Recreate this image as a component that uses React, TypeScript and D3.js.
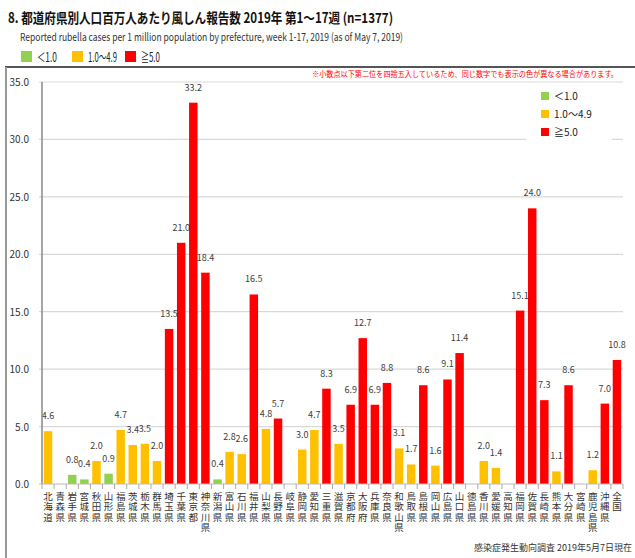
import * as d3 from "d3";

const categories = [
  "北海道", "青森県", "岩手県", "宮城県", "秋田県", "山形県", "福島県", "茨城県", "栃木県", "群馬県",
  "埼玉県", "千葉県", "東京都", "神奈川県", "新潟県", "富山県", "石川県", "福井県", "山梨県", "長野県",
  "岐阜県", "静岡県", "愛知県", "三重県", "滋賀県", "京都府", "大阪府", "兵庫県", "奈良県", "和歌山県",
  "鳥取県", "島根県", "岡山県", "広島県", "山口県", "徳島県", "香川県", "愛媛県", "高知県", "福岡県",
  "佐賀県", "長崎県", "熊本県", "大分県", "宮崎県", "鹿児島県", "沖縄県", "全国",
];

const values = [
  4.6, 0, 0.8, 0.4, 2.0, 0.9, 4.7, 3.4, 3.5, 2.0,
  13.5, 21.0, 33.2, 18.4, 0.4, 2.8, 2.6, 16.5, 4.8, 5.7,
  0, 3.0, 4.7, 8.3, 3.5, 6.9, 12.7, 6.9, 8.8, 3.1,
  1.7, 8.6, 1.6, 9.1, 11.4, 0, 2.0, 1.4, 0, 15.1,
  24.0, 7.3, 1.1, 8.6, 0, 1.2, 7.0, 10.8,
];

const yTicks = [0, 5, 10, 15, 20, 25, 30, 35];

const legendLabels = ["＜1.0", "1.0～4.9", "≧5.0"];
const legendColors = ["#92D050", "#FFC000", "#FF0000"];

const W = 635;
const H = 558;
const margin = {top: 82, right: 12, bottom: 74, left: 42};

const jp = "'Noto Sans CJK JP', 'Noto Sans', sans-serif";

const colorFor = (v: number) => (v < 1 ? legendColors[0] : v < 5 ? legendColors[1] : legendColors[2]);

const App = () => {
  const x = d3.scaleBand<string>()
    .domain(categories)
    .range([margin.left, 623])
    .paddingInner(0.3)
    .paddingOuter(0.15);

  const y = d3.scaleLinear().domain([0, 35]).range([H - margin.bottom, margin.top]);

  const bw = x.bandwidth();
  const gap = (x.step() - bw) / 2;
  const cx = (c: string) => (x(c) ?? 0) + bw / 2;

  return (
    <svg width={W} height={H} style={{position: "absolute", left: 0, top: 0, background: "#fff"}}
         fontFamily={jp}>
      {/* タイトル */}
      <text x={8} y={23} fontSize={14} fontWeight="bold" fill="#111" textLength={385}
            lengthAdjust="spacingAndGlyphs">
        8. 都道府県別人口百万人あたり風しん報告数  2019年 第1～17週 (n=1377)
      </text>
      <text x={20} y={41} fontSize={11} fill="#333" textLength={383} lengthAdjust="spacingAndGlyphs">
        Reported rubella cases per 1 million population by prefecture, week 1-17, 2019 (as of May 7, 2019)
      </text>
      {legendLabels.map((l, i) => {
        const lx = [21, 72, 125][i];
        const len = [20, 29, 19][i];
        return (
          <g key={l}>
            <rect x={lx} y={51} width={11} height={11} fill={legendColors[i]}/>
            <text x={lx + 16} y={62} fontSize={12.5} fill="#222" textLength={len}
                  lengthAdjust="spacingAndGlyphs">{l}</text>
          </g>
        );
      })}

      {/* 枠 */}
      <line x1={5} x2={W} y1={67} y2={67} stroke="#555" strokeWidth={2}/>
      <line x1={6} x2={6} y1={67} y2={H} stroke="#999" strokeWidth={2}/>

      <text x={618} y={77} fontSize={7.5} fill="#FF0000" textAnchor="end" textLength={306}
            lengthAdjust="spacingAndGlyphs">
        ※小数点以下第二位を四捨五入しているため、同じ数字でも表示の色が異なる場合があります。
      </text>

      {/* グリッド */}
      {yTicks.map(t => (
        <g key={t}>
          {t > 0 && <line x1={margin.left - 3} x2={623} y1={y(t)} y2={y(t)} stroke="#d9d9d9" strokeWidth={1.2}/>}
          <text x={29} y={y(t) + 4} fontSize={10} fill="#333" textAnchor="end">{t.toFixed(1)}</text>
        </g>
      ))}

      {/* 凡例 */}
      <rect x={526} y={84} width={86} height={60} fill="#fff"/>
      {legendLabels.map((l, i) => (
        <g key={l}>
          <rect x={541} y={92 + i * 18} width={8} height={8} fill={legendColors[i]}/>
          <text x={554} y={100 + i * 18} fontSize={10} fill="#222">{l}</text>
        </g>
      ))}

      {/* 棒 */}
      {categories.map((c, i) => {
        const v = values[i];
        if (v <= 0) return null;
        return (
          <rect key={c} x={x(c)} y={y(v)} width={bw} height={y(0) - y(v)} fill={colorFor(v)}/>
        );
      })}
      {categories.map((c, i) => {
        const v = values[i];
        if (v <= 0) return null;
        return (
          <text key={c} x={cx(c)} y={y(v) - 12} fontSize={9} fill="#404040"
                textAnchor="middle">{v.toFixed(1)}</text>
        );
      })}

      {/* 軸 */}
      <line x1={margin.left} x2={margin.left} y1={y(35)} y2={y(0)} stroke="#888" strokeWidth={1.5}/>
      <line x1={margin.left - 3} x2={623} y1={y(0)} y2={y(0)} stroke="#bbb" strokeWidth={1.2}/>
      {categories.map(c => (
        <line key={c} x1={(x(c) ?? 0) - gap} x2={(x(c) ?? 0) - gap} y1={y(0)} y2={y(0) + 5}
              stroke="#aaa"/>
      ))}
      <line x1={(x(categories[categories.length - 1]) ?? 0) + bw + gap}
            x2={(x(categories[categories.length - 1]) ?? 0) + bw + gap}
            y1={y(0)} y2={y(0) + 5} stroke="#aaa"/>
      {categories.map(c => (
        <text key={c} x={cx(c)} y={492} fontSize={9.5} fill="#333"
              style={{writingMode: "vertical-rl", textOrientation: "upright", letterSpacing: "0.6px"}}>
          {c}
        </text>
      ))}

      <text x={632} y={551} fontSize={9} fill="#333" textAnchor="end">感染症発生動向調査 2019年5月7日現在</text>
    </svg>
  );
};

export default App;
